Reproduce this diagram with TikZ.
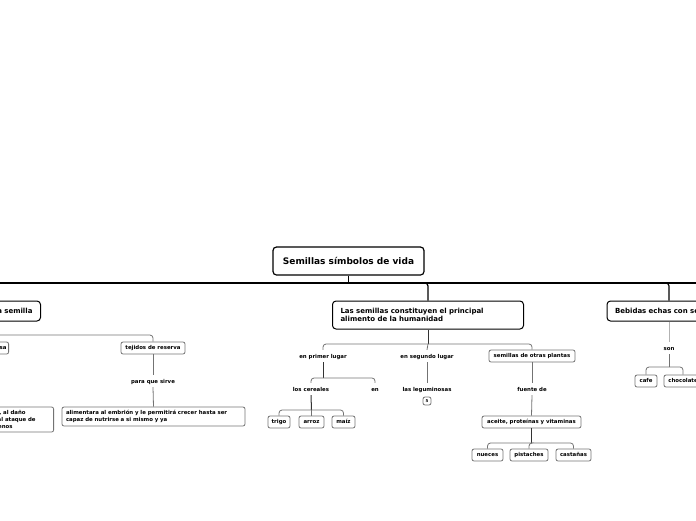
\documentclass[tikz,border=0pt]{standalone}
\usepackage{fontspec}
\setmainfont{DejaVu Sans}
\begin{document}
\begin{tikzpicture}[
    x=1pt, y=-1pt,
    rootbox/.style={draw, line width=1.2pt, rounded corners=3.5pt, font=\bfseries\fontsize{9}{11}\selectfont,
                    minimum width=151pt, minimum height=28pt, inner sep=0pt},
    mainbox/.style={draw, line width=1pt, rounded corners=3.5pt, font=\bfseries\fontsize{7}{8.4}\selectfont,
                    minimum height=20pt, inner sep=0pt, inner xsep=8pt, align=left},
    subbox/.style={draw=black!55, line width=0.8pt, rounded corners=2pt, font=\bfseries\fontsize{5.4}{8}\selectfont,
                   minimum height=12pt, inner sep=0pt, text height=4.2pt, text depth=1.2pt},
    wordlabel/.style={font=\bfseries\fontsize{5.4}{8}\selectfont, minimum height=12pt, inner sep=0pt,
                      text height=5.2pt, text depth=0.6pt},
    bar/.style={line width=1.2pt, rounded corners=3pt},
    stem/.style={black!55, line width=0.8pt, rounded corners=3pt},
    darkstem/.style={black!80, line width=1pt},
  ]
    \useasboundingbox (0,0) rectangle (696,520);

    \node[rootbox] (root) at (348.5,261) {Semillas símbolos de vida};
    \coordinate (hubmain) at (348.5,283);
    \coordinate (edgeleft) at (-10,283);
    \coordinate (edgeright) at (706,283);

    % first level
    \node[mainbox, anchor=east, text width=92pt, align=right] (partes) at (41,311) {a semilla};
    \node[mainbox, minimum width=190pt, minimum height=28pt, text width=175pt] (seeds) at (428,315)
      {Las semillas constituyen el principal\\alimento de la humanidad};
    \node[mainbox, minimum width=124pt, text width=108pt] (bebidas) at (669,311) {Bebidas echas con se};

    \draw[bar] (root.south) -- (hubmain);
    \draw[bar] (edgeleft) -- (hubmain) -- (edgeright);
    \draw[bar] (hubmain) -| (seeds.north);
    \draw[bar] (hubmain) -| (bebidas.north);

    % left branch
    \node[subbox, anchor=east, minimum width=40pt, text width=36pt, align=right] (cubierta) at (9,348) {sa};
    \node[subbox, minimum width=64pt] (tejidos) at (153,348) {tejidos de reserva};
    \node[wordlabel] (sirve) at (153,381) {para que sirve};
    \node[subbox, minimum width=183pt, minimum height=19pt, text width=175pt, align=left, text height=, text depth=,
          font=\bfseries\fontsize{5.4}{7.6}\selectfont] (embrion) at (153.5,416.5)
      {alimentara al embrión y le permitirá crecer hasta ser\\capaz de nutrirse a si mismo y ya};
    \node[subbox, anchor=east, minimum width=100pt, minimum height=25pt, text width=94pt, align=right, text height=, text depth=,
          font=\bfseries\fontsize{5.4}{7}\selectfont] (dano) at (54,419.5)
      {, al daño\rule{25pt}{0pt}\\al ataque de\rule{15pt}{0pt}\\enos\rule{38pt}{0pt}};
    \coordinate (hubleft) at (-10,335);

    \draw[stem] (hubleft) -| (tejidos.north);
    \draw[stem] (tejidos.south) -- (sirve.north);
    \draw[stem] (sirve.south) -- (embrion.north);

    % middle branch
    \node[wordlabel] (primer) at (323,356) {en primer lugar};
    \node[wordlabel] (segundo) at (427,356) {en segundo lugar};
    \node[subbox, minimum width=86pt] (otras) at (532,356) {semillas de otras plantas};
    \coordinate (hubseeds) at (428,344);

    \draw[darkstem] (seeds.south) -- (hubseeds);
    \draw[stem] (hubseeds) -| (primer.north);
    \draw[stem] (hubseeds) -| (otras.north);
    \draw[stem] (hubseeds) -- (segundo.north);

    \node[wordlabel] (cereales) at (311,389) {los cereales};
    \node[wordlabel] (en) at (375,389) {en};
    \coordinate (hubprimer) at (323,378);
    \draw[darkstem] (primer.south) -- (hubprimer);
    \draw[stem] (hubprimer) -| (cereales.north);
    \draw[stem] (hubprimer) -| (en.north);

    \node[subbox, minimum width=22pt] (trigo) at (279,422) {trigo};
    \node[subbox, minimum width=25pt] (arroz) at (311.5,422) {arroz};
    \node[subbox, minimum width=23pt] (maiz) at (343.5,422) {maíz};
    \coordinate (hubcereales) at (311.5,410);
    \draw[darkstem] (cereales.south) -- (hubcereales);
    \draw[stem] (hubcereales) -- (arroz.north);
    \draw[stem] (hubcereales) -| (trigo.north);
    \draw[stem] (hubcereales) -| (maiz.north);

    \node[wordlabel] (legum) at (427,389) {las leguminosas};
    \node[subbox, minimum width=8pt, minimum height=8pt, text height=3pt, text depth=0pt,
          font=\bfseries\fontsize{4}{5}\selectfont] (cinco) at (427,401) {5};
    \draw[stem] (segundo.south) -- (legum.north);

    \node[wordlabel] (fuente) at (532,389) {fuente de};
    \node[subbox, minimum width=99pt] (aceite) at (531.5,422) {aceite, proteínas y vitaminas};
    \draw[stem] (otras.south) -- (fuente.north);
    \draw[stem] (fuente.south) -- (aceite.north);

    \node[subbox, minimum width=31pt] (nueces) at (487.5,455) {nueces};
    \node[subbox, minimum width=38pt] (pistaches) at (529,455) {pistaches};
    \node[subbox, minimum width=35pt] (castanas) at (573.5,455) {castañas};
    \coordinate (hubaceite) at (531.5,443);
    \draw[darkstem] (aceite.south) -- (hubaceite);
    \draw[stem] (hubaceite) -| (nueces.north);
    \draw[stem] (hubaceite) -| (castanas.north);
    \draw[stem] (hubaceite) -| (pistaches.north);

    % right branch
    \node[wordlabel] (son) at (669,348) {son};
    \node[subbox, minimum width=22pt] (cafe) at (646,381) {cafe};
    \node[subbox, minimum width=38pt] (chocolate) at (683,381) {chocolate};
    \coordinate (hubson) at (669,367);
    \draw[stem, black!30] (bebidas.south) -- (son.north);
    \draw[stem] (son.south) -- (hubson);
    \draw[stem] (hubson) -| (cafe.north);
    \draw[stem] (hubson) -| (chocolate.north);
  \end{tikzpicture}
\end{document}
